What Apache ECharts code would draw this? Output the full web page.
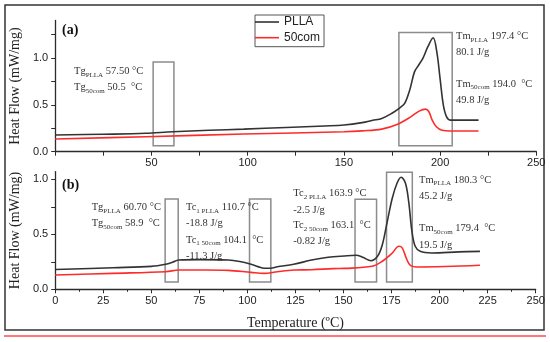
<!DOCTYPE html>
<html><head><meta charset="utf-8">
<script src="https://cdn.jsdelivr.net/npm/echarts@6/dist/echarts.min.js"></script>
<style>html,body{margin:0;padding:0;background:#fff}#c{width:550px;height:342px}</style>
</head><body><div id="c"></div>
<script>
// ---- data ----
const seriesNames = ['PLLA', '50com'];
// panel (a)
const aPllaT = [0, 25, 47, 61, 80, 98, 120, 140, 150, 159.5, 165, 169.7, 174.8, 179.1, 181.6, 184.2, 186.7, 188.8, 191, 193.6, 196.4, 198.3, 200, 201.7, 203.4, 205.5, 212, 220];
const aPllaV = [0.178, 0.186, 0.196, 0.213, 0.228, 0.241, 0.258, 0.274, 0.284, 0.31, 0.335, 0.355, 0.408, 0.468, 0.515, 0.656, 0.851, 0.922, 0.993, 1.117, 1.215, 1.064, 0.78, 0.497, 0.372, 0.337, 0.337, 0.337];
const aComT = [0, 47, 98, 150, 159.5, 169.7, 177.6, 184.8, 189.1, 192.5, 194.2, 195.9, 198.1, 201, 205.5, 220];
const aComV = [0.135, 0.16, 0.188, 0.212, 0.222, 0.241, 0.29, 0.372, 0.433, 0.454, 0.426, 0.337, 0.266, 0.228, 0.221, 0.221];
// panel (b)
const bPllaT = [0, 30, 50, 57.5, 61, 64.3, 75, 90, 96, 101.9, 105.5, 108.8, 112, 115.6, 124.1, 133.4, 142, 150.5, 156.6, 160, 164.3, 167.7, 170.2, 172.8, 175.4, 177.9, 180, 182.2, 183.9, 185.6, 187.3, 189.9, 195.9, 210, 221];
const bPllaV = [0.18, 0.196, 0.208, 0.227, 0.245, 0.266, 0.27, 0.266, 0.252, 0.227, 0.206, 0.191, 0.192, 0.205, 0.227, 0.266, 0.291, 0.303, 0.309, 0.291, 0.26, 0.3, 0.405, 0.618, 0.83, 0.966, 1.018, 0.966, 0.8, 0.527, 0.391, 0.345, 0.33, 0.34, 0.345];
const bComT = [0, 30, 57.5, 64.3, 78, 90, 101.9, 108.8, 115.6, 124.1, 133.4, 144.6, 150.5, 164.8, 170.2, 175.4, 178.8, 180.6, 182.6, 184.8, 189.1, 221];
const bComV = [0.13, 0.145, 0.16, 0.175, 0.175, 0.172, 0.154, 0.145, 0.16, 0.175, 0.178, 0.188, 0.19, 0.209, 0.255, 0.33, 0.391, 0.375, 0.285, 0.218, 0.203, 0.218];
// annotation boxes [x1, y1, x2, y2] in data units
const aBoxes = [[50.9, 0.064, 61.7, 0.957], [178.6, 0.064, 206.3, 1.27]];
const bBoxes = [[57.2, 0.066, 64.0, 0.821], [101.1, 0.066, 112.2, 0.821], [156.0, 0.066, 167.2, 0.818], [172.4, 0.066, 185.8, 1.064]];
const yTickLabels = ['0.0', '0.5', '1.0'];
const xName = 'Temperature (ºC)';
const yName = 'Heat Flow (mW/mg)';

// ---- chart ----
const pairs = (t, v) => t.map((x, i) => [x, v[i]]);
const boxes = b => b.map(r => [{coord: [r[0], r[1]]}, {coord: [r[2], r[3]]}]);
const INK = '#2b2b2b';
const SERIF = '"Liberation Serif", "DejaVu Serif", serif';
const SANS = '"Liberation Sans", Arial, sans-serif';

function yLab(v) {
  const k = Math.round(v / 0.5);
  if (Math.abs(v / 0.5 - k) < 1e-6 && k < yTickLabels.length) return yTickLabels[k];
  return '';
}
function xAxisCfg(idx, labelEvery, showName) {
  return {
    type: 'value', gridIndex: idx, min: 0, max: 250, interval: 25,
    axisLine: {lineStyle: {color: INK, width: 1.3}},
    axisTick: {length: 4, lineStyle: {color: INK, width: 1}},
    minorTick: {show: idx === 1, splitNumber: 2, length: 2.5, lineStyle: {color: INK}},
    splitLine: {show: false},
    axisLabel: {
      fontFamily: SANS, fontSize: 11, color: '#222', margin: 6,
      formatter: v => (v % labelEvery === 0 && !(idx === 0 && v === 0)) ? String(v) : ''
    },
    name: showName ? xName : '', nameLocation: 'middle', nameGap: 27,
    nameTextStyle: {fontFamily: SERIF, fontSize: 14, color: '#222'}
  };
}
function yAxisCfg(idx, max) {
  return {
    type: 'value', gridIndex: idx, min: 0, max: max, interval: 0.25,
    axisLine: {show: true, lineStyle: {color: INK, width: 1.3}},
    axisTick: {show: true, length: 4, lineStyle: {color: INK}},
    splitLine: {show: false},
    axisLabel: {fontFamily: SANS, fontSize: 11, color: '#222', margin: 7, formatter: yLab, showMaxLabel: false},
    name: yName, nameLocation: 'middle', nameGap: 21,
    nameTextStyle: {fontFamily: SERIF, fontSize: 14, color: '#222'}
  };
}
const boxStyle = {color: 'rgba(0,0,0,0)', borderColor: '#8c8c8c', borderWidth: 1.5};
function lineSeries(name, idx, data, color, box) {
  const s = {
    name, type: 'line', xAxisIndex: idx, yAxisIndex: idx, data,
    symbol: 'none', smooth: 0.35, lineStyle: {color, width: 1.6}, itemStyle: {color},
    animation: false, z: 3
  };
  if (box) s.markArea = {silent: true, itemStyle: boxStyle, label: {show: false}, data: boxes(box)};
  return s;
}

const rich = {
  n: {fontFamily: SERIF, fontSize: 10.5, lineHeight: 14, fill: '#333', color: '#333'},
  s: {fontFamily: SERIF, fontSize: 7, lineHeight: 8, verticalAlign: 'bottom', fill: '#333', color: '#333'}
};
const annTexts = [
  [74, 71.7, '{n|Tg}{s|PLLA}{n| 57.50 °C}'],
  [74, 87.3, '{n|Tg}{s|50com}{n| 50.5  °C}'],
  [456, 36.7, '{n|Tm}{s|PLLA}{n| 197.4 °C}'],
  [456, 52.3, '{n|80.1 J/g}'],
  [456, 84, '{n|Tm}{s|50com}{n| 194.0  °C}'],
  [456, 100, '{n|49.8 J/g}'],
  [91.7, 207.7, '{n|Tg}{s|PLLA}{n| 60.70 °C}'],
  [91.7, 223.3, '{n|Tg}{s|50com}{n| 58.9  °C}'],
  [186, 207.7, '{n|Tc}{s|1 PLLA}{n| 110.7 °C}'],
  [186, 223.3, '{n|-18.8 J/g}'],
  [186, 240, '{n|Tc}{s|1 50com}{n| 104.1  °C}'],
  [186, 256.7, '{n|-11.3 J/g}'],
  [293.3, 193.3, '{n|Tc}{s|2 PLLA}{n| 163.9 °C}'],
  [293.3, 210, '{n|-2.5 J/g}'],
  [293.3, 225.7, '{n|Tc}{s|2 50com}{n| 163.1  °C}'],
  [293.3, 241.7, '{n|-0.82 J/g}'],
  [419, 180, '{n|Tm}{s|PLLA}{n| 180.3 °C}'],
  [419, 196, '{n|45.2 J/g}'],
  [419, 228.3, '{n|Tm}{s|50com}{n| 179.4  °C}'],
  [419, 245, '{n|19.5 J/g}']
];
const graphics = [
  {type: 'rect', shape: {x: 5, y: 5, width: 539, height: 325}, style: {fill: 'none', stroke: '#333', lineWidth: 1.5}, z: 0},
  {type: 'line', shape: {x1: 4, y1: 336, x2: 546, y2: 336}, style: {stroke: '#ff4a4a', lineWidth: 1.5}},
  {type: 'text', x: 62, y: 30, style: {text: '(a)', font: 'bold 14px ' + SERIF, fill: '#111', verticalAlign: 'middle'}},
  {type: 'text', x: 62, y: 185, style: {text: '(b)', font: 'bold 14px ' + SERIF, fill: '#111', verticalAlign: 'middle'}}
].concat(annTexts.map(a => ({
  type: 'text', x: a[0], y: a[1], z: 10,
  style: {text: a[2], rich: rich, fill: '#333', verticalAlign: 'middle', align: 'left'}
})));

const chart = echarts.init(document.getElementById('c'), null, {renderer: 'canvas'});
chart.setOption({
  animation: false,
  backgroundColor: '#fff',
  grid: [
    {left: 47.3, right: 13.7, top: 20.4, height: 131.3},
    {left: 47.7, right: 14.3, top: 171.6, height: 117.7}
  ],
  xAxis: [xAxisCfg(0, 50, false), xAxisCfg(1, 25, true)],
  yAxis: [yAxisCfg(0, 1.4), yAxisCfg(1, 1.07)],
  legend: {
    data: seriesNames, orient: 'vertical', left: 255, top: 15,
    icon: 'rect', itemWidth: 24, itemHeight: 1.6, itemGap: 1.7, padding: [0, 4, 2, 0],
    borderColor: '#555', borderWidth: 1,
    textStyle: {fontFamily: SANS, fontSize: 12, lineHeight: 14, color: '#222'}
  },
  graphic: graphics,
  series: [
    lineSeries(seriesNames[0], 0, pairs(aPllaT, aPllaV), '#333333', aBoxes),
    lineSeries(seriesNames[1], 0, pairs(aComT, aComV), '#ff2b2b'),
    lineSeries(seriesNames[0], 1, pairs(bPllaT, bPllaV), '#333333', bBoxes),
    lineSeries(seriesNames[1], 1, pairs(bComT, bComV), '#ff2b2b')
  ]
});
</script></body></html>
